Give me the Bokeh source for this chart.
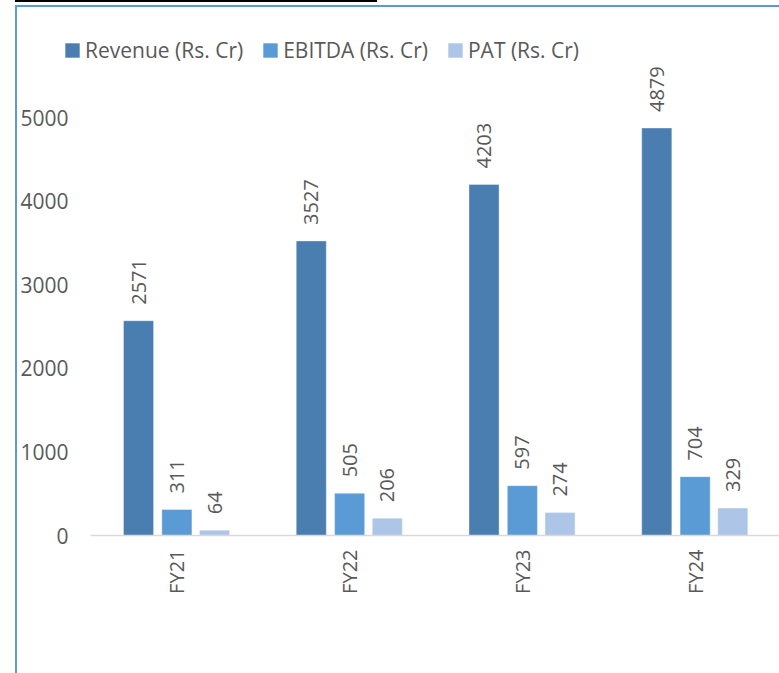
import math
from bokeh.plotting import figure
from bokeh.layouts import column
from bokeh.models import (ColumnDataSource, FactorRange, Range1d, FixedTicker, Legend,
                          LegendItem, Div)
from bokeh.transform import dodge
from bokeh.core.properties import value
from bokeh.embed import file_html
from bokeh.resources import INLINE

years = ["FY21", "FY22", "FY23", "FY24"]
revenue = [2571, 3527, 4203, 4879]
ebitda = [311, 505, 597, 704]
pat = [64, 206, 274, 329]
series_names = ["Revenue (Rs. Cr)", "EBITDA (Rs. Cr)", "PAT (Rs. Cr)"]
colors = ["#4A7EB0", "#5B9BD5", "#ADC6E7"]
y_ticks = [0, 1000, 2000, 3000, 4000, 5000]

FONT = "Open Sans"
TXT = "#595959"
BORDER = "2px solid #5B9BD5"

# ---- main chart ----
p = figure(width=764, height=611, x_range=FactorRange(factors=years, range_padding=0),
           y_range=Range1d(0, 5664), output_backend="svg", toolbar_location=None,
           min_border_left=73, min_border_right=0, min_border_top=0, min_border_bottom=138)
p.outline_line_color = None
p.xgrid.grid_line_color = None
p.ygrid.grid_line_color = None

offsets = [-0.222, 0.0, 0.218]
bw = 0.174
all_vals = [revenue, ebitda, pat]
for vals, off, col in zip(all_vals, offsets, colors):
    src = ColumnDataSource(dict(x=years, y=vals, t=[str(v) for v in vals]))
    p.vbar(x=dodge("x", off, range=p.x_range), top="y", width=bw, source=src,
           fill_color=col, line_color="#FFFFFF", line_alpha=0.35, line_width=1)
    p.text(x=dodge("x", off, range=p.x_range), y="y", text="t", source=src,
           angle=math.pi / 2, text_align="left", text_baseline="middle",
           y_offset=-16, text_font=value(FONT), text_font_size="20px", text_color=TXT)

p.yaxis.ticker = FixedTicker(ticks=y_ticks)
p.yaxis.axis_line_color = None
p.yaxis.major_tick_line_color = None
p.yaxis.minor_tick_line_color = None
p.yaxis.major_tick_out = 0
p.yaxis.major_label_standoff = 22
p.yaxis.major_label_text_font = FONT
p.yaxis.major_label_text_font_size = "21px"
p.yaxis.major_label_text_color = TXT

p.xaxis.axis_line_color = "#D9D9D9"
p.xaxis.axis_line_width = 1.5
p.xaxis.major_tick_line_color = None
p.xaxis.minor_tick_line_color = None
p.xaxis.major_tick_out = 0
p.xaxis.major_label_orientation = math.pi / 2
p.xaxis.major_label_standoff = 14
p.xaxis.major_label_text_font = FONT
p.xaxis.major_label_text_font_size = "20px"
p.xaxis.major_label_text_color = TXT

p.margin = (0, 0, 0, 15)
p.styles = {"border-left": BORDER}

# ---- legend strip ----
lg = figure(width=764, height=57, x_range=Range1d(0, 1), y_range=Range1d(0, 1),
            output_backend="svg", toolbar_location=None,
            x_axis_type=None, y_axis_type=None,
            min_border_left=0, min_border_right=0, min_border_top=0, min_border_bottom=0)
lg.frame_align = False
lg.outline_line_color = None
lg.xgrid.grid_line_color = None
lg.ygrid.grid_line_color = None
items = []
for name, col in zip(series_names, colors):
    ksrc = ColumnDataSource(dict(x=[0.5], top=[0.0]))
    r = lg.vbar(x="x", top="top", width=0.01, source=ksrc, fill_color=col,
                line_color=col, line_alpha=0.0)
    items.append(LegendItem(label=name, renderers=[r]))
legend = Legend(items=items, orientation="horizontal", location=(46, 0),
                padding=0, margin=0, spacing=18, glyph_width=18, glyph_height=18,
                label_standoff=4, label_text_font=FONT, label_text_font_size="21px",
                label_text_color=TXT, border_line_color=None, background_fill_alpha=0)
lg.add_layout(legend, "center")
lg.margin = (3, 0, 0, 15)
lg.styles = {"border-top": BORDER, "border-left": BORDER}

top_rule = Div(width=362, height=2, margin=(0, 0, 0, 15),
               styles={"background-color": "black"})

layout = column(top_rule, lg, p, spacing=0)

open("out.html", "w").write(file_html(layout, INLINE))
